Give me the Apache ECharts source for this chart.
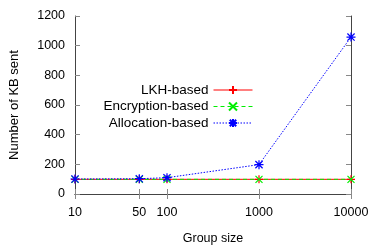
<!DOCTYPE html>
<html>
<head>
<meta charset="utf-8">
<script src="https://cdn.jsdelivr.net/npm/echarts@6/dist/echarts.min.js"></script>
<style>html,body{margin:0;padding:0;background:#fff}#c{width:374px;height:249px}</style>
</head>
<body>
<div id="c"></div>
<script>
const groupSizes = [10, 50, 100, 1000, 10000];
const xTicks = [10, 50, 100, 1000, 10000];
const lkh = [99, 99, 99, 99, 99];
const encryption = [99, 99, 99, 99, 99];
const allocation = [101, 103, 110, 198, 1058];
const seriesNames = ['LKH-based', 'Encryption-based', 'Allocation-based'];
const yTicks = [0, 200, 400, 600, 800, 1000, 1200];

const FONT = 'Liberation Sans, Arial, Helvetica, sans-serif';
const FS = 12.5;
const PLUS = 'path://M0,-5L0,5M-5,0L5,0';
const CROSS = 'path://M-5,-5L5,5M-5,5L5,-5';
const STAR = 'path://M0,-5L0,5M-5,0L5,0M-4,-4L4,4M-4,4L4,-4';
const colors = ['#ff0000', '#00ee00', '#0000ff'];
const dashTypes = ['solid', [4, 3], [1.5, 1.5]];

function pairs(vals) { return groupSizes.map((g, i) => [g, vals[i]]); }

const chart = echarts.init(document.getElementById('c'), null, {renderer: 'canvas'});
const axisLineStyle = {color: '#444', width: 1};
const tickStyle = {color: '#888', width: 1};
chart.setOption({
  animation: false,
  textStyle: {fontFamily: FONT},
  grid: {left: 75, right: 23, top: 16, bottom: 55, containLabel: false, outerBoundsMode: 'none'},
  legend: {
    orient: 'vertical', align: 'right', right: 121, top: 83, padding: 0,
    itemWidth: 39, itemHeight: 10, itemGap: 2.5,
    textStyle: {fontFamily: FONT, fontSize: 13.5, color: '#000'},
    data: seriesNames.map((n, i) => ({
      name: n,
      lineStyle: {color: colors[i], width: 1, type: dashTypes[i]}
    }))
  },
  xAxis: [{
    type: 'log', logBase: 10, min: 10, max: 10000, position: 'bottom',
    name: 'Group size', nameLocation: 'middle', nameGap: 38,
    nameTextStyle: {fontFamily: FONT, fontSize: FS, color: '#000'},
    axisLine: {show: true, lineStyle: axisLineStyle},
    axisTick: {show: true, inside: true, length: 5, lineStyle: tickStyle, customValues: xTicks},
    axisLabel: {show: true, margin: 12, fontFamily: FONT, fontSize: FS, color: '#000', customValues: xTicks, formatter: v => String(v)},
    splitLine: {show: false}, minorTick: {show: false}
  }, {
    type: 'log', logBase: 10, min: 10, max: 10000, position: 'top',
    axisLine: {show: true, lineStyle: axisLineStyle},
    axisTick: {show: true, inside: true, length: 5, lineStyle: tickStyle, customValues: xTicks},
    axisLabel: {show: false},
    splitLine: {show: false}
  }],
  yAxis: [{
    type: 'value', min: 0, max: 1200, interval: 200, position: 'left',
    name: 'Number of KB sent', nameLocation: 'middle', nameGap: 54, nameRotate: 90,
    nameTextStyle: {fontFamily: FONT, fontSize: 13, color: '#000'},
    axisLine: {show: true, lineStyle: axisLineStyle},
    axisTick: {show: true, inside: true, length: 5, lineStyle: tickStyle, customValues: yTicks},
    axisLabel: {show: true, margin: 10, fontFamily: FONT, fontSize: FS, color: '#000', customValues: yTicks, formatter: v => String(v)},
    splitLine: {show: false}
  }, {
    type: 'value', min: 0, max: 1200, interval: 200, position: 'right',
    axisLine: {show: true, lineStyle: axisLineStyle},
    axisTick: {show: true, inside: true, length: 5, lineStyle: tickStyle},
    axisLabel: {show: false},
    splitLine: {show: false}
  }],
  series: [{
    name: seriesNames[0], type: 'line', data: pairs(lkh),
    symbol: PLUS, symbolSize: 8, showAllSymbol: true,
    lineStyle: {color: colors[0], width: 1, type: dashTypes[0]},
    itemStyle: {color: colors[0], borderColor: colors[0], borderWidth: 1.2}
  }, {
    name: seriesNames[1], type: 'line', data: pairs(encryption),
    symbol: CROSS, symbolSize: 7, showAllSymbol: true,
    lineStyle: {color: colors[1], width: 1, type: dashTypes[1]},
    itemStyle: {color: colors[1], borderColor: colors[1], borderWidth: 1.2}
  }, {
    name: seriesNames[2], type: 'line', data: pairs(allocation),
    symbol: STAR, symbolSize: 9, showAllSymbol: true,
    lineStyle: {color: colors[2], width: 1, type: dashTypes[2]},
    itemStyle: {color: colors[2], borderColor: colors[2], borderWidth: 1.2}
  }]
});
</script>
</body>
</html>
